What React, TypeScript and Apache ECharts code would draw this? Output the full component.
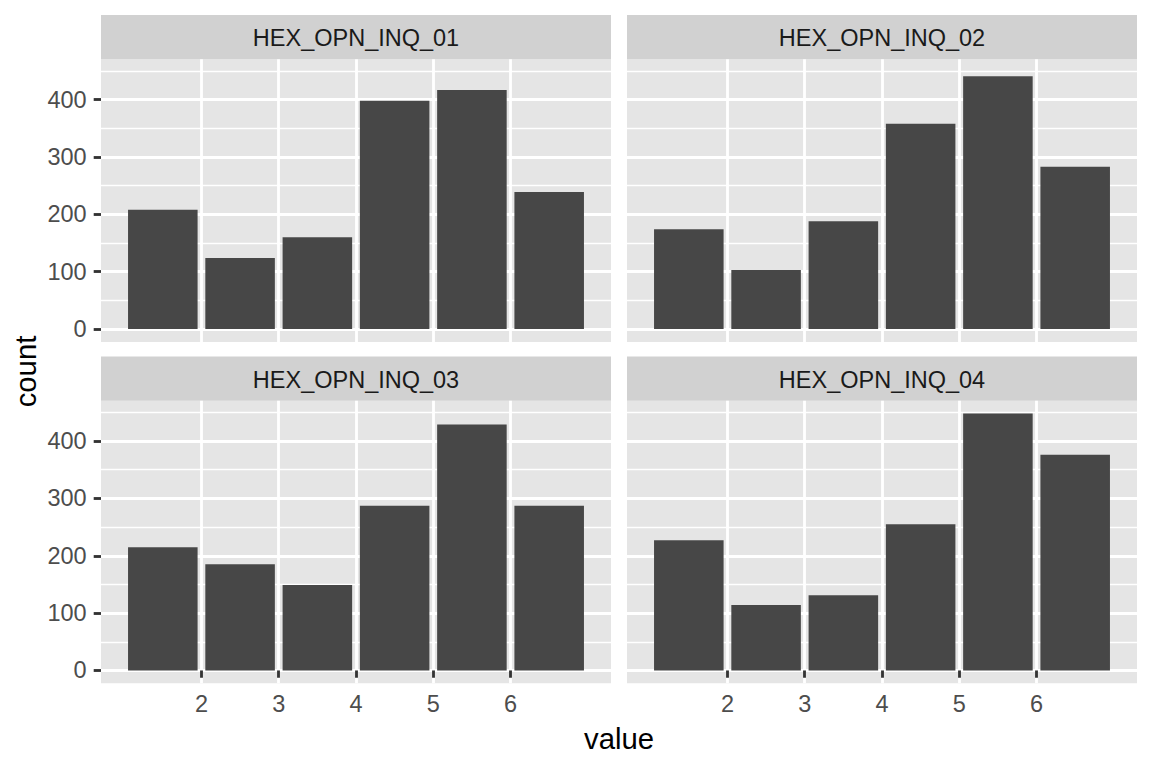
import React, { useEffect, useRef } from "react";
import * as echarts from "echarts";

const facetNames = ["HEX_OPN_INQ_01", "HEX_OPN_INQ_02", "HEX_OPN_INQ_03", "HEX_OPN_INQ_04"];
const binCenters = [1.5, 2.5, 3.5, 4.5, 5.5, 6.5];
const inq01 = [208, 124, 160, 398, 417, 239];
const inq02 = [174, 103, 188, 358, 441, 283];
const inq03 = [215, 185, 149, 287, 429, 287];
const inq04 = [227, 114, 131, 255, 448, 376];
const xTicks = [2, 3, 4, 5, 6];
const yTicks = [0, 100, 200, 300, 400];
const yMinorTicks = [50, 150, 250, 350, 450];
const binWidth = 0.9;
const xDomain = [1, 7];

const FONT = "'Liberation Sans', Arial, Helvetica, sans-serif";

export default function App() {
  const ref = useRef<HTMLDivElement>(null);
  useEffect(() => {
    if (!ref.current) return;
    const chart = echarts.init(ref.current, undefined, { renderer: "svg" });
    const allSeries = [inq01, inq02, inq03, inq04];
    const yMaxData = Math.max(...allSeries.flat());
    const yMin = -0.05 * yMaxData;
    const yMax = 1.05 * yMaxData;
    const xSpan = xDomain[1] - xDomain[0];
    const xMin = xDomain[0] - 0.05 * xSpan;
    const xMax = xDomain[1] + 0.05 * xSpan;

    const lefts = [101, 627, 101, 627];
    const tops = [59.3, 59.3, 400.7, 400.7];
    const W = 510;
    const H = 282.6;
    const stripH = 44.3;

    const grids = lefts.map((l, i) => ({
      left: l,
      top: tops[i],
      width: W,
      height: H,
      containLabel: false,
      outerBoundsMode: "none",
      backgroundColor: "#E5E5E5",
      show: true,
      borderWidth: 0,
    }));

    const xAxes = lefts.map((_, i) => {
      const bottomRow = i >= 2;
      return {
        type: "value",
        gridIndex: i,
        position: "bottom",
        min: xMin,
        max: xMax,
        axisLine: { show: false },
        axisTick: {
          show: bottomRow,
          customValues: xTicks,
          length: 7.3,
          lineStyle: { color: "#333333", width: 2.85 },
        },
        axisLabel: {
          show: bottomRow,
          customValues: xTicks,
          margin: 9,
          color: "#4D4D4D",
          fontSize: 23.5,
          fontFamily: FONT,
        },
        splitLine: { show: true, lineStyle: { color: "#FFFFFF", width: 2.85 } },
      };
    });

    const yAxes: any[] = [];
    lefts.forEach((_, i) => {
      const leftCol = i % 2 === 0;
      yAxes.push({
        type: "value",
        gridIndex: i,
        position: "left",
        offset: 0,
        min: yMin,
        max: yMax,
        axisLine: { show: false },
        axisTick: { show: false, customValues: yMinorTicks },
        axisLabel: { show: false, customValues: yMinorTicks },
        splitLine: { show: true, lineStyle: { color: "#FFFFFF", width: 1.4 } },
      });
      yAxes.push({
        type: "value",
        gridIndex: i,
        position: "left",
        offset: 0,
        min: yMin,
        max: yMax,
        axisLine: { show: false },
        axisTick: {
          show: leftCol,
          customValues: yTicks,
          length: 7.3,
          lineStyle: { color: "#333333", width: 2.85 },
        },
        axisLabel: {
          show: leftCol,
          customValues: yTicks,
          margin: 14.3,
          color: "#4D4D4D",
          fontSize: 23.5,
          fontFamily: FONT,
        },
        splitLine: { show: true, lineStyle: { color: "#FFFFFF", width: 2.85 } },
      });
    });

    const series = allSeries.map((vals, i) => ({
      type: "custom",
      xAxisIndex: i,
      yAxisIndex: 2 * i + 1,
      data: binCenters.map((c, k) => [c, vals[k]]),
      encode: { x: 0, y: 1 },
      z: 5,
      renderItem: (params: any, api: any) => {
        const x = api.value(0);
        const y = api.value(1);
        const p0 = api.coord([x - binWidth / 2, y]);
        const p1 = api.coord([x + binWidth / 2, 0]);
        return {
          type: "rect",
          shape: { x: p0[0], y: p0[1], width: p1[0] - p0[0], height: p1[1] - p0[1] },
          style: { fill: "#474747" },
        };
      },
    }));

    const graphics: any[] = [];
    lefts.forEach((l, i) => {
      const sy = tops[i] - stripH;
      graphics.push({
        type: "rect",
        shape: { x: l, y: sy, width: W, height: stripH },
        style: { fill: "#D1D1D1" },
        silent: true,
      });
      graphics.push({
        type: "text",
        x: l + W / 2,
        y: sy + stripH / 2 + 1,
        style: {
          text: facetNames[i],
          fill: "#1A1A1A",
          font: `23.5px ${FONT}`,
          textAlign: "center",
          textVerticalAlign: "middle",
        },
      });
    });
    graphics.push({
      type: "text",
      x: 619,
      y: 738.5,
      style: {
        text: "value",
        fill: "#000000",
        font: `29.3px ${FONT}`,
        textAlign: "center",
        textVerticalAlign: "middle",
      },
    });
    graphics.push({
      type: "text",
      x: 25.5,
      y: 371.5,
      rotation: Math.PI / 2,
      style: {
        text: "count",
        fill: "#000000",
        font: `29.3px ${FONT}`,
        textAlign: "center",
        textVerticalAlign: "middle",
      },
    });

    chart.setOption({
      animation: false,
      backgroundColor: "#FFFFFF",
      grid: grids,
      xAxis: xAxes,
      yAxis: yAxes,
      series,
      graphic: graphics,
    });
    return () => chart.dispose();
  }, []);
  return (
    <div
      ref={ref}
      style={{ position: "absolute", left: 0, top: 0, width: 1152, height: 768 }}
    />
  );
}
